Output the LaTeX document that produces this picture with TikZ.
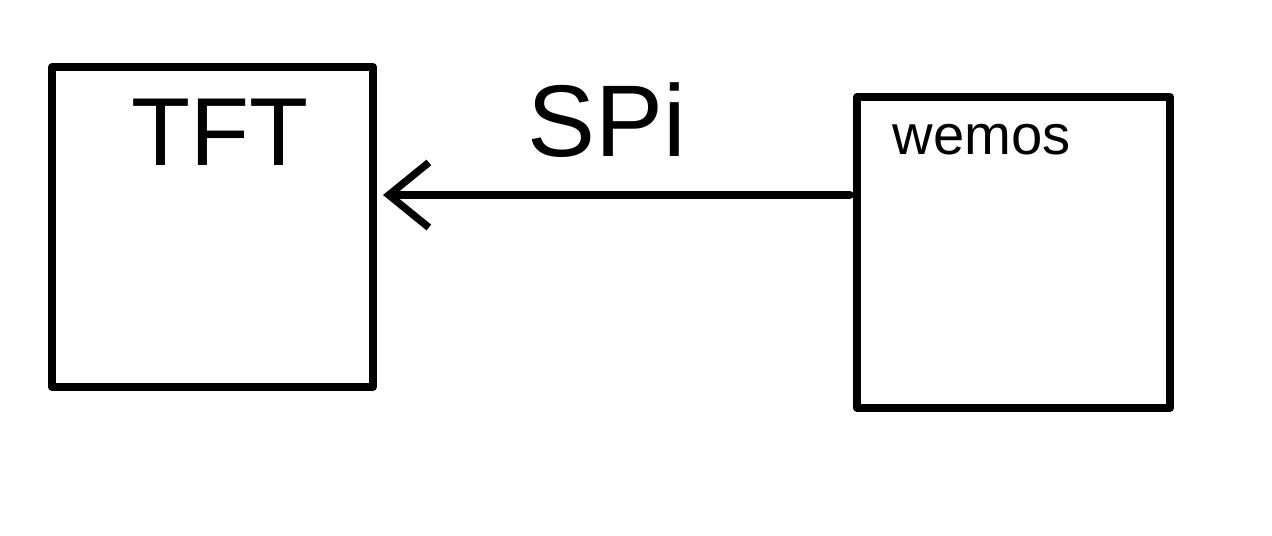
\documentclass[tikz,border=0pt]{standalone}
\usepackage{fontspec}
\setmainfont{Liberation Sans}
\usetikzlibrary{arrows.meta}

\begin{document}
\begin{tikzpicture}[x=0.02cm, y=-0.02cm, % one unit = one pixel of the sketch
	> = {Straight Barb[length=0.8cm,width=1.3cm]}, % open arrow head
	line join=round, line cap=round,
	box/.style={draw, rectangle, line width=4.5pt, inner sep=0pt},
	lbl/.style={inner sep=0pt}]
	\useasboundingbox (0,0) rectangle (1272,535);

	\node[box, minimum width=6.42cm, minimum height=6.4cm] (tft) at (212.5,227) {};
	\node[box, minimum width=6.26cm, minimum height=6.22cm] (wemos) at (1013.5,252.5) {};

	\node[lbl, font=\fontsize{55}{60}\selectfont] (tftlbl) at (220,132) {TFT};
	\node[lbl, font=\fontsize{32}{36}\selectfont] (wemoslbl) at (982,140) {wemos};
	\node[lbl, font=\fontsize{58}{64}\selectfont] (spilbl) at (607,120) {SPi};

	\coordinate (from) at (850,195);
	\coordinate (to) at (383,195);
	\draw[->, line width=4.2pt] (from) -- (to);

\end{tikzpicture}
\end{document}
